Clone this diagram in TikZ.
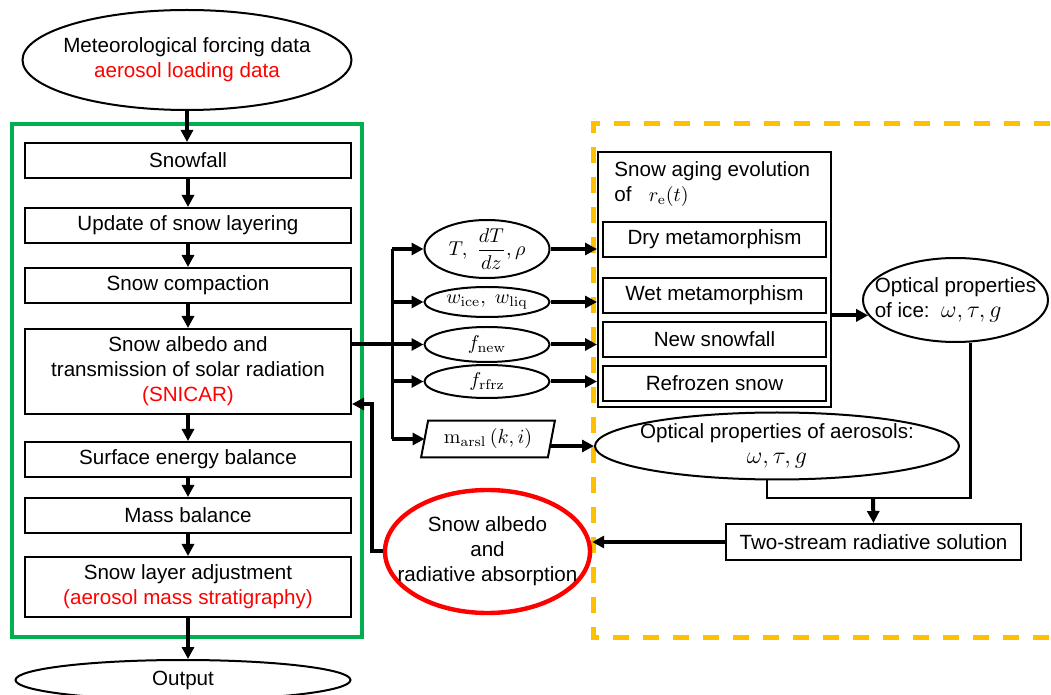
\documentclass[tikz,border=0pt]{standalone}
\usepackage{amsmath}
\usepackage[no-math]{fontspec}
\setmainfont{Liberation Sans}
\usetikzlibrary{shapes.geometric,arrows.meta,positioning,calc}
\definecolor{frameGreen}{RGB}{0,176,80}
\definecolor{frameOrange}{RGB}{255,192,0}
\tikzset{
  every node/.style={font=\fontsize{10.3}{12.5}\selectfont},
  procbox/.style={draw,line width=1pt,minimum width=163pt,minimum height=17.5pt,inner sep=0pt,align=center},
  agebox/.style={draw,line width=1pt,minimum width=111.5pt,minimum height=17.5pt,inner sep=0pt},
  oval/.style={draw,ellipse,line width=1pt,inner sep=-30pt,align=center},
  flow/.style={line width=2pt,-{Triangle[length=6pt,width=6pt]}},
  link/.style={line width=1.2pt},
}
\begin{document}
\begin{tikzpicture}[x=0.5pt,y=-0.5pt]
\useasboundingbox (0,0) rectangle (1051,695);
\pgfmathsetmacro{\colx}{188}
\pgfmathsetmacro{\midx}{487}
\pgfmathsetmacro{\agex}{714.5}
% frames
\draw[frameGreen,line width=2pt](12,124) rectangle (362,637);
\draw[frameOrange,line width=2.5pt,dash pattern=on 8pt off 7pt](1080,124)--(593,124)--(593,637)--(1080,637);
% left column
\node[oval,minimum width=164.5pt,minimum height=50pt] (forcing) at (187,60) {Meteorological forcing data\\\textcolor{red}{aerosol loading data}};
\node[procbox] (snowfall) at (\colx,160.5) {Snowfall};
\node[procbox] (layering) at (\colx,225.5) {Update of snow layering};
\node[procbox] (compaction) at (\colx,285.5) {Snow compaction};
\node[procbox,minimum height=42.5pt] (albedo) at (\colx,371.5) {Snow albedo and\\transmission of solar radiation\\\textcolor{red}{(SNICAR)}};
\node[procbox] (energy) at (\colx,459.5) {Surface energy balance};
\node[procbox] (mass) at (\colx,515.5) {Mass balance};
\node[procbox,minimum height=30pt] (adjust) at (\colx,587) {Snow layer adjustment\\\textcolor{red}{(aerosol mass stratigraphy)}};
\node[oval,minimum width=167.5pt,minimum height=20pt] (output) at (183,680) {Output};
\foreach \a/\b in {forcing/snowfall,snowfall/layering,layering/compaction,compaction/albedo,albedo/energy,energy/mass,mass/adjust,adjust/output}
  {\draw[flow](\a.south)--(\a.south|-\b.north);}
% state variables
\node[oval,minimum width=62.5pt,minimum height=29pt] (tdt) at (\midx,249) {$T,\ \dfrac{dT}{dz},\rho$};
\node[oval,minimum width=62.5pt,minimum height=15pt] (wice) at (\midx,302) {$w_{\mathrm{ice}},\ w_{\mathrm{liq}}$};
\node[oval,minimum width=62.5pt,minimum height=17.5pt] (fnew) at (\midx,344.5) {$f_{\mathrm{new}}$};
\node[oval,minimum width=62.5pt,minimum height=16.5pt] (frfrz) at (\midx,381.5) {$f_{\mathrm{rfrz}}$};
\node[inner sep=0pt,minimum width=63pt,minimum height=18pt] (marsl) at (488,439) {$\mathrm{m}_{\mathrm{arsl}}\left(k,i\right)$};
\draw[line width=1pt]([xshift=-1.75pt]marsl.south west)--([xshift=1.75pt]marsl.north west)--([xshift=1.75pt]marsl.north east)--([xshift=-1.75pt]marsl.south east)--cycle;
\coordinate (split) at (392,0);
\draw[line width=1.5pt](tdt.west-|split)--(marsl.west-|split);
\foreach \dst in {tdt,wice,frfrz,marsl}{\draw[flow](\dst.west-|split)--(\dst.west);}
\draw[flow](albedo.east|-fnew.west)--(fnew.west);
% snow aging
\node[draw,line width=1pt,minimum width=116.5pt,minimum height=127.5pt,inner sep=0pt] (aging) at (\agex,279.5) {};
\node[anchor=north west,align=left,inner sep=0pt] (agingtitle) at (614,161) {Snow aging evolution\\of \ \ $r_{\mathrm{e}}(t)$};
\foreach \nm/\yy/\txt in {dry/239.5/Dry metamorphism,wet/295.5/Wet metamorphism,newsnow/339.5/New snowfall,refrozen/383.5/Refrozen snow}
  {\node[agebox] (\nm) at (\agex,\yy) {\txt};}
\foreach \src in {tdt,wice,fnew,frfrz}{\draw[flow](\src.east)--(\src.east-|aging.west);}
% optical properties
\node[oval,minimum width=92.5pt,minimum height=42pt,align=left] (ice) at (955.5,300) {Optical properties\\of ice:\ \ {\large$\omega,\tau,g$}};
\draw[flow](aging.east|-ice.190)--(ice.190);
\node[oval,minimum width=182pt,minimum height=33.5pt] (aero) at (777,446) {Optical properties of aerosols:\\{\large$\omega,\tau,g$}};
\draw[flow](aero.west-|marsl.east)--(aero.west);
% radiative solution
\node[procbox,minimum width=147.5pt,minimum height=18pt] (twostream) at (873.5,542) {Two-stream radiative solution};
\node[oval,draw=red,line width=2.2pt,minimum width=102.5pt,minimum height=61.5pt] (absorb) at (487.5,551.5) {Snow albedo\\and\\radiative absorption};
\coordinate (join) at (873,498);
\draw[link]([xshift=-5pt]aero.south)|-(join)-|([xshift=7.5pt]ice.south);
\draw[flow](join)--(twostream.north);
\draw[flow](twostream.west)--(twostream.west-|absorb.east);
\coordinate (fbcorner) at (372,404);
\draw[flow](absorb.west)-|(fbcorner)--(fbcorner-|albedo.east);
\end{tikzpicture}
\end{document}
